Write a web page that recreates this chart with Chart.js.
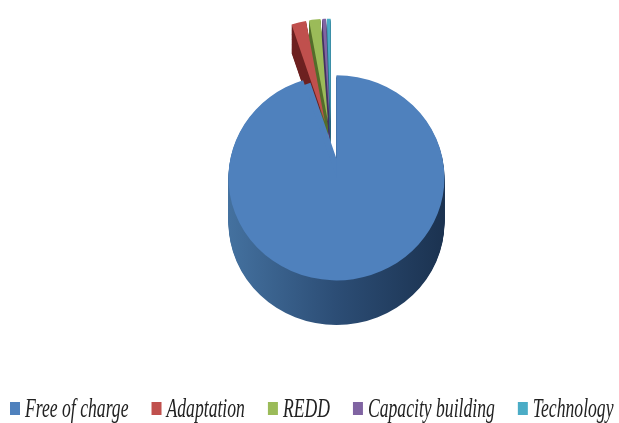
<!DOCTYPE html>
<html>
<head>
<meta charset="utf-8">
<style>
  html, body { margin: 0; padding: 0; background: #fff; }
  #wrap { width: 619px; height: 423px; }
  canvas { filter: blur(0.6px); }
</style>
<script src="https://cdn.jsdelivr.net/npm/chart.js@4"></script>
</head>
<body>
<div id="wrap"><canvas id="pie" width="619" height="423"></canvas></div>
<script>
var categories = ['Free of charge', 'Adaptation', 'REDD', 'Capacity building', 'Technology'];
var shares = [95, 2.2, 1.7, 0.55, 0.55];
var topColors = ['#4f81bd', '#c0504d', '#9bbb59', '#8064a2', '#4bacc6'];
var sideColors = ['#2c4d75', '#6e2220', '#55702c', '#463560', '#2a6a80'];
var explode = [35, 25, 25, 25, 25];

var squash = 0.95;
var blueDepth = 47;
var wedgeDepth = 30;

// chart.js widens and narrows arcs when it does the offset itself, so the
// slices are pulled out here and drawn from their own elements
var pie3d = {
  id: 'pie3d',
  beforeDatasetDraw: function(chart) {
    var ctx = chart.ctx;
    var arcs = chart.getDatasetMeta(0).data;
    var cy = arcs[0].y;

    function pull(arc, i) {
      var mid = (arc.startAngle + arc.endAngle) / 2;
      return { x: Math.cos(mid) * explode[i], y: Math.sin(mid) * explode[i] };
    }

    ctx.save();
    ctx.translate(0, cy);
    ctx.scale(1, squash);
    ctx.translate(0, -cy);

    arcs.forEach(function(arc, i) {
      var p = pull(arc, i);
      var x = arc.x + p.x;
      var y = arc.y + p.y;
      var r = arc.outerRadius;
      var depth = i == 0 ? blueDepth : wedgeDepth;
      var fill = sideColors[i];
      if (i == 0) {
        fill = ctx.createLinearGradient(x - r, 0, x + r, 0);
        fill.addColorStop(0, '#44719f');
        fill.addColorStop(0.5, '#2c4d75');
        fill.addColorStop(1, '#1b3250');
      }
      ctx.fillStyle = fill;
      for (var d = depth; d > 0; d--) {
        ctx.beginPath();
        ctx.moveTo(x, y + d);
        ctx.arc(x, y + d, r, arc.startAngle, arc.endAngle);
        ctx.closePath();
        ctx.fill();
      }
    });

    // the tip of the big slice sits above the middle of the ellipse
    var b = pull(arcs[0], 0);
    ctx.save();
    ctx.translate(arcs[0].x + b.x, arcs[0].y + b.y - 20);
    ctx.scale(0.78, 0.78);
    ctx.translate(-arcs[0].x, -arcs[0].y);
    arcs[0].draw(ctx);
    ctx.restore();

    arcs.forEach(function(arc, i) {
      var p = pull(arc, i);
      ctx.save();
      ctx.translate(p.x, p.y);
      arc.draw(ctx);
      ctx.restore();
    });

    ctx.restore();
    return false;
  }
};

// tall narrow italic legend, squeezed sideways like the original
var squeezedLegend = {
  id: 'squeezedLegend',
  afterDraw: function(chart) {
    var ctx = chart.ctx;
    var squeeze = 0.63;
    var x = 10;
    ctx.save();
    ctx.font = 'italic 28px "Liberation Serif"';
    ctx.textBaseline = 'alphabetic';
    categories.forEach(function(label, i) {
      ctx.fillStyle = topColors[i];
      ctx.fillRect(x, 402, 10, 13);
      x += 15;
      ctx.save();
      ctx.translate(x, 417);
      ctx.scale(squeeze, 1);
      ctx.fillStyle = '#222';
      ctx.fillText(label, 0, 0);
      ctx.restore();
      x += ctx.measureText(label).width * squeeze + 23;
    });
    ctx.restore();
  }
};

new Chart(document.getElementById('pie').getContext('2d'), {
  type: 'pie',
  data: {
    labels: categories,
    datasets: [{
      data: shares,
      backgroundColor: topColors,
      borderWidth: 0
    }]
  },
  options: {
    responsive: false,
    animation: false,
    events: [],
    radius: 108,
    layout: { padding: { left: 231, right: 188, top: 45, bottom: 178 } },
    plugins: {
      legend: { display: false },
      tooltip: { enabled: false },
      title: { display: false }
    }
  },
  plugins: [pie3d, squeezedLegend]
});
</script>
</body>
</html>
